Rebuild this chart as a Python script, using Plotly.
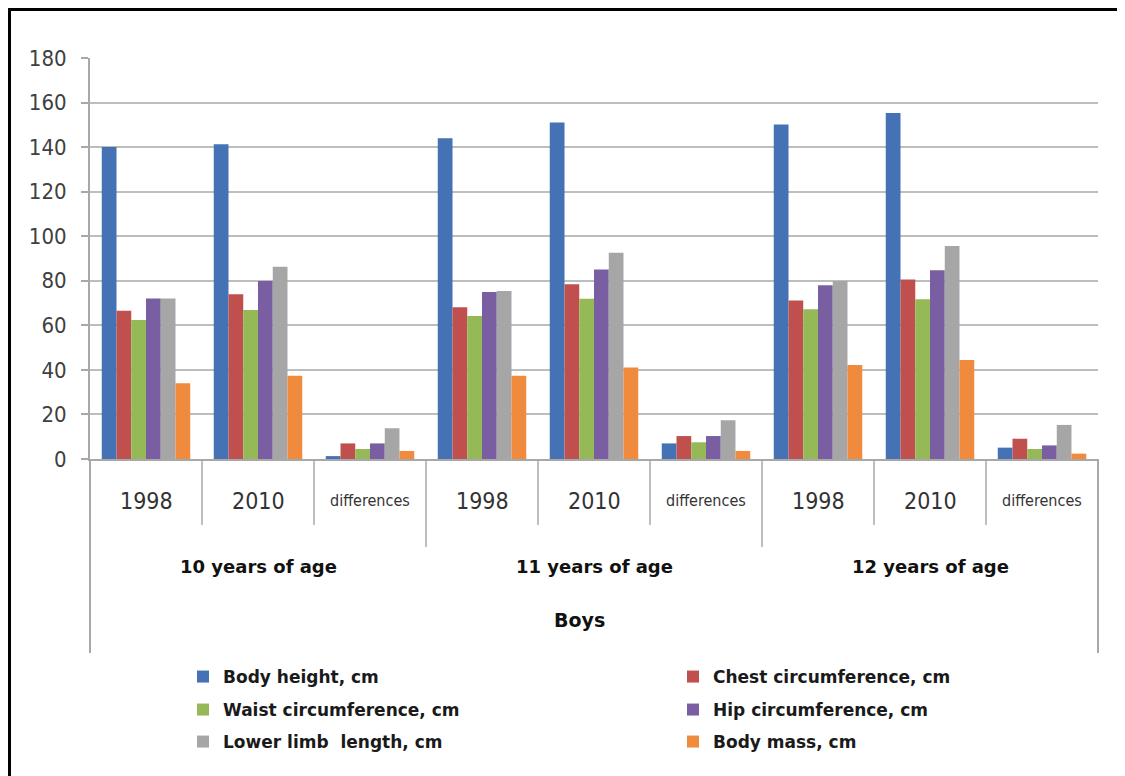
import plotly.graph_objects as go

# ---------------- data ----------------
categories = ["1998", "2010", "differences", "1998", "2010", "differences", "1998", "2010", "differences"]
age_groups = ["10 years of age", "11 years of age", "12 years of age"]
axis_title = "Boys"

series_names = ["Body height, cm", "Chest circumference, cm", "Waist circumference, cm",
                "Hip circumference, cm", "Lower limb  length, cm", "Body mass, cm"]
body_height = [140.0, 141.3, 1.3, 144.0, 151.0, 7.0, 150.2, 155.3, 5.1]
chest_circ = [66.5, 73.9, 7.0, 68.1, 78.4, 10.3, 71.2, 80.6, 9.1]
waist_circ = [62.4, 66.9, 4.5, 64.2, 71.9, 7.5, 67.2, 71.7, 4.5]
hip_circ = [72.1, 79.9, 7.0, 75.0, 85.1, 10.3, 78.0, 84.7, 6.1]
lower_limb = [72.1, 86.3, 13.8, 75.4, 92.6, 17.4, 79.9, 95.6, 15.3]
body_mass = [34.0, 37.4, 3.6, 37.4, 41.1, 3.6, 42.2, 44.4, 2.4]
series_values = [body_height, chest_circ, waist_circ, hip_circ, lower_limb, body_mass]
y_ticks = [0, 20, 40, 60, 80, 100, 120, 140, 160, 180]

colors = ["#4472B4", "#C0504D", "#94B956", "#7A5EA2", "#A6A6A6", "#F08A3C"]

# ---------------- layout geometry (pixels) ----------------
# the page body has an 8px margin, so the figure is made 8px smaller and
# reference pixel positions are shifted by 8px
OFF = 8
W, H = 1125 - OFF, 776 - OFF
L, R, T, B = 90 - OFF, 27, 58 - OFF, 776 - 459
plot_w = W - L - R
plot_h = H - T - B
base_px = H - B  # in figure pixels


def py(ref_pix):
    """reference pixel y -> paper y"""
    return (base_px - (ref_pix - OFF)) / plot_h


def px(ref_pix):
    """reference pixel x -> paper x"""
    return ((ref_pix - OFF) - L) / plot_w


xs = list(range(len(categories)))

fig = go.Figure()
for i, (name, vals, col) in enumerate(zip(series_names, series_values, colors)):
    lg = "legend" if i == 0 else f"legend{i + 1}"
    fig.add_trace(go.Bar(x=xs, y=vals, name=name, marker=dict(color=col, line=dict(width=0)),
                         legend=lg))

legend_rows = [677, 710, 742]
legend_cols = [183, 673]
legend_font = dict(family="DejaVu Sans", size=17, color="#1a1a1a", weight="bold")
legends = {}
for i in range(6):
    key = "legend" if i == 0 else f"legend{i + 1}"
    r, c = divmod(i, 2)
    legends[key] = dict(x=px(legend_cols[c]), y=py(legend_rows[r]), xanchor="left", yanchor="middle",
                        bgcolor="rgba(0,0,0,0)", font=legend_font, borderwidth=0)

fig.update_layout(**legends)

GRID = "#BDBDBD"
AX = "#A8A8A8"
tick_font = dict(family="DejaVu Sans Condensed, DejaVu Sans", size=22, color="#404040")

fig.update_layout(
    width=W, height=H,
    margin=dict(l=L, r=R, t=T, b=B, pad=0),
    paper_bgcolor="white", plot_bgcolor="white",
    bargap=0.21, bargroupgap=0,
    barmode="group",
    showlegend=True,
    xaxis=dict(range=[-0.5, len(categories) - 0.5], showticklabels=False, ticks="",
               showgrid=False, zeroline=False, showline=True, linecolor=AX, linewidth=2,
               fixedrange=True),
    yaxis=dict(range=[0, 180], tickvals=y_ticks, ticks="outside", ticklen=7, tickcolor=AX,
               tickwidth=1.5, showgrid=True, gridcolor=GRID, gridwidth=2, zeroline=False,
               showline=True, linecolor=AX, linewidth=2, tickfont=tick_font,
               ticklabelstandoff=10, fixedrange=True),
)

shapes = []
# frame of the whole picture (left and top)
shapes.append(dict(type="line", xref="paper", yref="paper", x0=px(9.5), x1=px(9.5), y0=py(9), y1=py(790),
                   line=dict(color="black", width=3)))
shapes.append(dict(type="line", xref="paper", yref="paper", x0=px(8), x1=px(1140), y0=py(9.5), y1=py(9.5),
                   line=dict(color="black", width=3)))
# extensions of axis lines below plot
shapes.append(dict(type="line", xref="paper", yref="paper", x0=0, x1=0, y0=0, y1=py(653),
                   line=dict(color=AX, width=2)))
shapes.append(dict(type="line", xref="paper", yref="paper", x0=1, x1=1, y0=0, y1=py(653),
                   line=dict(color=AX, width=2)))
# category separators
for k in range(1, len(categories)):
    long_sep = (k % 3 == 0)
    shapes.append(dict(type="line", xref="x", yref="paper", x0=k - 0.5, x1=k - 0.5, y0=0,
                       y1=py(547 if long_sep else 525), line=dict(color=AX, width=1.5)))

annotations = []
for i, lab in enumerate(categories):
    small = lab == "differences"
    annotations.append(dict(x=i, y=py(501), xref="x", yref="paper", text=lab, showarrow=False,
                            xanchor="center", yanchor="middle",
                            font=dict(family="DejaVu Sans Condensed, DejaVu Sans",
                                      size=16 if small else 23, color="#333333")))
for g, lab in enumerate(age_groups):
    annotations.append(dict(x=3 * g + 1, y=py(566), xref="x", yref="paper", text=lab, showarrow=False,
                            xanchor="center", yanchor="middle",
                            font=dict(family="DejaVu Sans", size=18, color="#111111", weight="bold")))
annotations.append(dict(x=px(579), y=py(620), xref="paper", yref="paper", text=axis_title, showarrow=False,
                        xanchor="center", yanchor="middle",
                        font=dict(family="DejaVu Sans", size=19, color="#111111", weight="bold")))

fig.update_layout(shapes=shapes, annotations=annotations)

fig.write_html("out.html")
